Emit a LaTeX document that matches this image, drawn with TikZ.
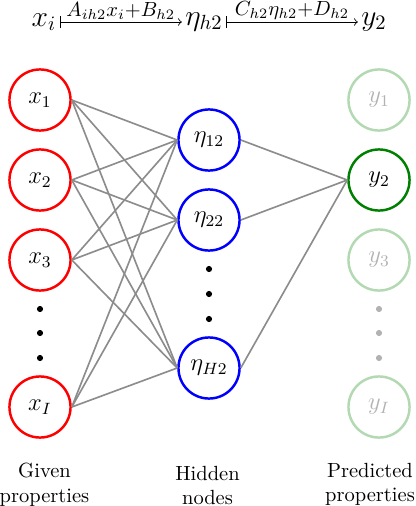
\documentclass[tikz,border=0pt]{standalone}
\usepackage{amsmath}
\usetikzlibrary{positioning,arrows}

\begin{document}
\begin{tikzpicture}[x=0.4878pt,y=-0.4878pt]
	\tikzstyle{neuron} = [circle, draw, very thick, minimum size=29.8pt, inner sep=0pt, font=\large]
	\tikzstyle{inneuron} = [neuron, draw=red]
	\tikzstyle{hidneuron} = [neuron, draw=blue]
	\tikzstyle{outneuron} = [neuron, draw=green!50!black]
	\tikzstyle{faded} = [opacity=0.3]
	\tikzstyle{weight} = [draw=black!45, thick]
	\tikzstyle{mapnode} = [font=\Large, inner sep=1.5pt]
	\tikzstyle{maplabel} = [above, font=\Large, inner sep=1pt]
	\tikzstyle{caption} = [align=center, anchor=north, inner sep=0pt]
	\useasboundingbox (0,0) rectangle (415,506);
	
	\node[mapnode] (xi) at (44,22) {$x_i$};
	\node[mapnode] (eta) at (204,22) {$\eta_{h2}$};
	\node[mapnode] (yo) at (374,22) {$y_2$};
	\draw[|->] (xi.east) -- node[maplabel] {$\scriptstyle A_{ih2}x_i+B_{h2}$} (eta.west);
	\draw[|->] (eta.east) -- node[maplabel] {$\scriptstyle C_{h2}\eta_{h2}+D_{h2}$} (yo.west);
	
	\node[inneuron] (x1) at (40,100) {$x_1$};
	\node[inneuron] (x2) at (40,180) {$x_2$};
	\node[inneuron] (x3) at (40,260) {$x_3$};
	\node[inneuron] (xI) at (40,407) {$x_I$};
	
	\node[hidneuron] (h1) at (209,140) {$\eta_{12}$};
	\node[hidneuron] (h2) at (209,220) {$\eta_{22}$};
	\node[hidneuron] (hH) at (209,368) {$\eta_{H2}$};
	
	\node[outneuron, faded] (y1) at (379,100) {$y_1$};
	\node[outneuron] (y2) at (379,180) {$y_2$};
	\node[outneuron, faded] (y3) at (379,260) {$y_3$};
	\node[outneuron, faded] (yI) at (379,407) {$y_I$};
	
	\foreach \y in {309,333,358}
		\fill (40,\y) circle (1.5pt);
	\foreach \y in {269,294,319}
		\fill (209,\y) circle (1.5pt);
	\foreach \y in {309,333,358}
		\fill[faded] (379,\y) circle (1.5pt);
	
	\foreach \i in {x1,x2,x3,xI}
		\foreach \h in {h1,h2,hH}
			\draw[weight] (\i.east) -- (\h.west);
	\foreach \h in {h1,h2,hH}
		\draw[weight] (\h.east) -- (y2.west);
	
	\node[caption] (given) at (44.5,463) {Given\\properties};
	\node[caption] (hidden) at (207.5,465.5) {Hidden\\nodes};
	\node[caption] (predicted) at (370,462.5) {Predicted\\properties};
	
\end{tikzpicture}
\end{document}
